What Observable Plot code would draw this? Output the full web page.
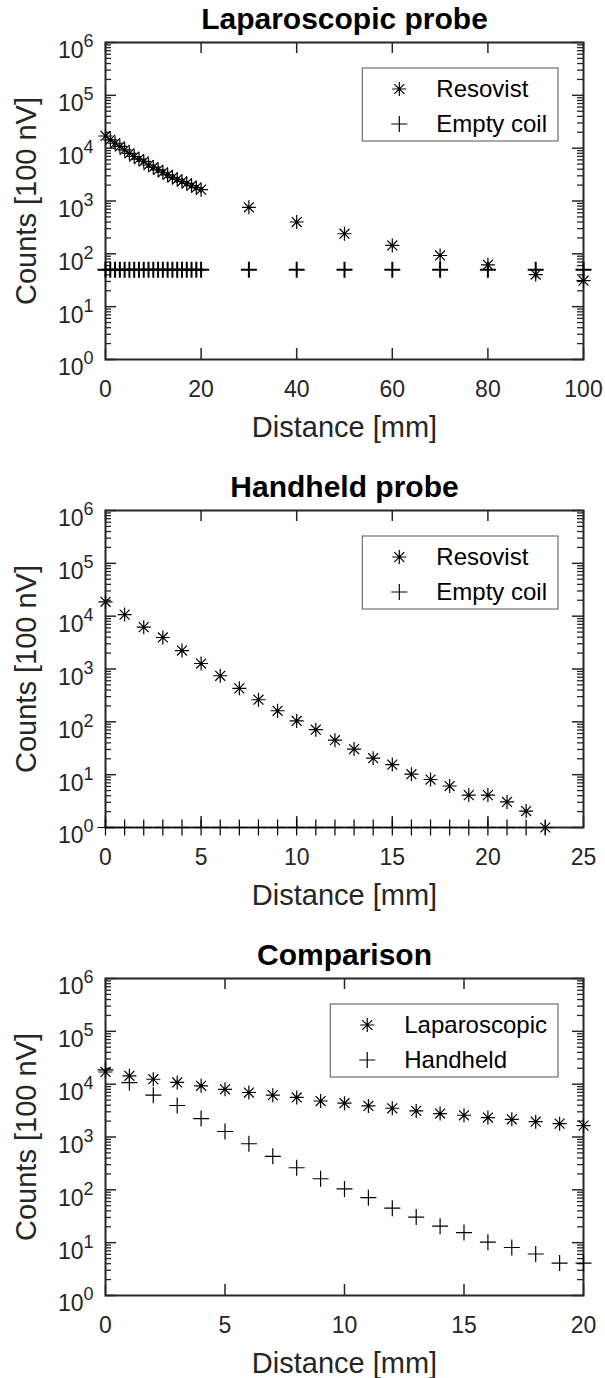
<!DOCTYPE html>
<html><head><meta charset="utf-8">
<script src="https://cdn.jsdelivr.net/npm/d3@7"></script>
<script src="https://cdn.jsdelivr.net/npm/@observablehq/plot@0.6"></script>
<style>
body{margin:0;background:#fff;}
#chart svg{display:block;}
</style></head><body><div id="chart"></div>
<script>
// ---- data ----
const lapDistance = [0,1,2,3,4,5,6,7,8,9,10,11,12,13,14,15,16,17,18,19,20,30,40,50,60,70,80,90,100];
const lapResovist = [17000,14400,12400,10800,9300,8000,6950,6200,5600,4800,4360,3880,3500,3120,2780,2580,2330,2160,1950,1790,1640,760,400,240,144,93,62,40.5,31];
const lapEmptyCoil = [50,50,50,50,50,50,50,50,50,50,50,50,50,50,50,50,50,50,50,50,50,50,50,50,50,50,50,50,50];

const handDistance = [0,1,2,3,4,5,6,7,8,9,10,11,12,13,14,15,16,17,18,19,20,21,22,23];
const handResovist = [18700,10700,6200,3950,2230,1270,745,430,262,162,104,71,45,30.5,20.5,15.5,10.2,8.1,6.1,4.1,4.1,3.05,2.05,1];
const handEmptyCoil = [1,1,1,1,1,1,1,1,1,1,1,1,1,1,1,1,1,1,1,1,1,1,1,1];

const cmpDistance = [0,1,2,3,4,5,6,7,8,9,10,11,12,13,14,15,16,17,18,19,20];
const cmpLaparoscopic = [17000,14400,12400,10800,9300,8000,6950,6200,5600,4800,4360,3880,3500,3120,2780,2580,2330,2160,1950,1790,1640];
const cmpHandheld = [18700,10700,6200,3950,2230,1270,745,430,262,162,104,71,45,30.5,20.5,15.5,10.2,8.1,6.1,4.1,4.1];

const yMajor = [1,10,100,1000,10000,100000,1000000];
const xTicksLap = [0,20,40,60,80,100];
const xTicksHand = [0,5,10,15,20,25];
const xTicksCmp = [0,5,10,15,20];

const titles = ["Laparoscopic probe","Handheld probe","Comparison"];
const xLabel = "Distance [mm]";
const yLabel = "Counts [100 nV]";

// ---- styling ----
const FONT = "'Liberation Sans', Arial, Helvetica, sans-serif";
const AX = "#262626";

const asterisk = {draw(ctx, size){ const r=Math.sqrt(size/Math.PI), d=r*Math.SQRT1_2;
  ctx.moveTo(-r,0);ctx.lineTo(r,0);ctx.moveTo(0,-r);ctx.lineTo(0,r);
  ctx.moveTo(-d,-d);ctx.lineTo(d,d);ctx.moveTo(-d,d);ctx.lineTo(d,-d);}};
const plus = {draw(ctx, size){ const r=Math.sqrt(size/Math.PI);
  ctx.moveTo(-r,0);ctx.lineTo(r,0);ctx.moveTo(0,-r);ctx.lineTo(0,r);}};

const container = document.getElementById("chart");

function makePanel(cfg){
  const W=605,H=cfg.height,mL=105,mR=22,mT=42,mB=cfg.height-42-317;
  const fw=W-mL-mR, fh=H-mT-mB;
  const yMinor = yMajor.slice(0,-1).flatMap(v=>[2,3,4,5,6,7,8,9].map(k=>k*v));
  const marks = [
    Plot.tickY(yMajor,{y:d=>d,insetRight:fw-11,stroke:AX,strokeWidth:1.5}),
    Plot.tickY(yMajor,{y:d=>d,insetLeft:fw-11,stroke:AX,strokeWidth:1.5}),
    Plot.tickY(yMinor,{y:d=>d,insetRight:fw-6,stroke:AX,strokeWidth:1.3}),
    Plot.tickY(yMinor,{y:d=>d,insetLeft:fw-6,stroke:AX,strokeWidth:1.3}),
    Plot.tickX(cfg.xTicks,{x:d=>d,insetTop:fh-11,stroke:AX,strokeWidth:1.5}),
    Plot.tickX(cfg.xTicks,{x:d=>d,insetBottom:fh-11,stroke:AX,strokeWidth:1.5}),
    Plot.frame({stroke:AX,strokeWidth:2}),
    Plot.axisY({ticks:yMajor,tickSize:0,tickPadding:12,dy:8.5,fontSize:23,label:null,
      tickFormat:d=>"10^"+Math.round(Math.log10(d))}),
    Plot.axisX({ticks:cfg.xTicks,tickSize:0,tickPadding:21,fontSize:23,label:null}),
    Plot.text([cfg.title],{text:d=>d,frameAnchor:"top",lineAnchor:"middle",textAnchor:"middle",dy:-23,fontSize:30,fontWeight:"bold",fill:"#000"}),
    Plot.text([xLabel],{text:d=>d,frameAnchor:"bottom",lineAnchor:"middle",textAnchor:"middle",dy:68,fontSize:29,fill:AX}),
    Plot.text([yLabel],{text:d=>d,frameAnchor:"left",lineAnchor:"middle",textAnchor:"middle",dx:-79,rotate:-90,fontSize:29,fill:AX}),
    ...cfg.series.map(s=>Plot.dot(s.x.map((x,i)=>({x,y:s.y[i]})),
      {x:"x",y:"y",symbol:s.symbol,r:s.r,fill:"none",stroke:"#000",strokeWidth:s.sw}))
  ];
  const plot = Plot.plot({
    width:W,height:H,marginLeft:mL,marginRight:mR,marginTop:mT,marginBottom:mB,
    style:{fontFamily:FONT,color:AX,background:"#fff",overflow:"visible"},
    x:{domain:cfg.xDomain,label:null},
    y:{type:"log",domain:[1,1e6],label:null},
    marks
  });
  container.appendChild(plot);
  // superscript exponents
  plot.querySelectorAll('g[aria-label="y-axis tick label"] text').forEach(t=>{
    const s=t.textContent; const e=s.split("^")[1];
    t.textContent="";
    const a=document.createElementNS("http://www.w3.org/2000/svg","tspan"); a.textContent="10";
    const b=document.createElementNS("http://www.w3.org/2000/svg","tspan"); b.textContent=e;
    b.setAttribute("dy","-11"); b.setAttribute("font-size","18");
    t.appendChild(a); t.appendChild(b);
  });
  // legend
  const xr=plot.scale("x").range, yr=plot.scale("y").range;
  const right=Math.max(...xr), top=Math.min(...yr);
  const g=d3.select(plot).append("g").attr("font-family",FONT).attr("font-size",24).attr("text-anchor","start");
  const rect=g.append("rect").attr("fill","#fff").attr("stroke","#555").attr("stroke-width",1);
  const texts=cfg.series.map(s=>g.append("text").text(s.name).attr("fill","#000")
    .attr("text-anchor","start").attr("dy","0.35em"));
  const tw=Math.max(...texts.map(t=>t.node().getComputedTextLength()));
  const w=74+tw+11, h=73, x0=right-25-w, y0=top+26;
  rect.attr("x",x0).attr("y",y0).attr("width",w).attr("height",h);
  cfg.series.forEach((s,i)=>{
    const cy=y0+21+i*35;
    texts[i].attr("x",x0+74).attr("y",cy);
    const p=d3.path(); s.symbol.draw(p,s.r*s.r*Math.PI);
    g.append("path").attr("d",p.toString()).attr("transform",`translate(${x0+37},${cy})`)
      .attr("fill","none").attr("stroke","#000").attr("stroke-width",1.2);
  });
}

makePanel({title:titles[0],height:468,xDomain:[0,100],xTicks:xTicksLap,series:[
  {name:"Resovist",x:lapDistance,y:lapResovist,symbol:asterisk,r:7,sw:1.2},
  {name:"Empty coil",x:lapDistance,y:lapEmptyCoil,symbol:plus,r:8,sw:2}
]});
makePanel({title:titles[1],height:468,xDomain:[0,25],xTicks:xTicksHand,series:[
  {name:"Resovist",x:handDistance,y:handResovist,symbol:asterisk,r:7,sw:1.2},
  {name:"Empty coil",x:handDistance,y:handEmptyCoil,symbol:plus,r:8,sw:1.2}
]});
makePanel({title:titles[2],height:442,xDomain:[0,20],xTicks:xTicksCmp,series:[
  {name:"Laparoscopic",x:cmpDistance,y:cmpLaparoscopic,symbol:asterisk,r:7,sw:1.2},
  {name:"Handheld",x:cmpDistance,y:cmpHandheld,symbol:plus,r:8,sw:1.2}
]});
</script></body></html>
